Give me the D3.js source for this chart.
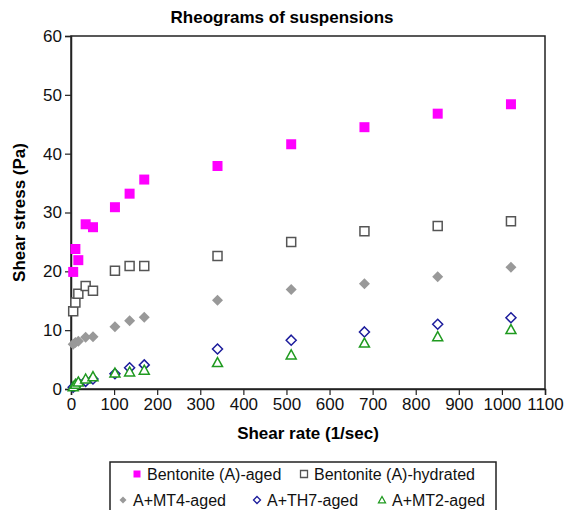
<!DOCTYPE html>
<html>
<head>
  <meta charset="UTF-8">
  <style>
    body { margin: 0; background: #fff; }
    text { font-family: "Liberation Sans", Arial, sans-serif; }
  </style>
</head>
<body>
<svg></svg>
<script src="https://d3js.org/d3.v7.min.js"></script>
<script>
// shear rates (1/sec)
const rate = [5.1, 10.2, 17, 34, 51, 102, 136, 170, 340, 511, 681, 851, 1021];

// shear stress (Pa) per suspension
const bentAged     = [19.9, 23.8, 21.9, 28.0, 27.5, 30.9, 33.2, 35.6, 37.9, 41.6, 44.5, 46.8, 48.4];
const bentHydrated = [13.2, 14.7, 16.2, 17.5, 16.7, 20.1, 20.9, 20.9, 22.6, 25.0, 26.8, 27.7, 28.5];
const mt4Aged      = [7.6, 7.9, 8.1, 8.8, 8.9, 10.6, 11.6, 12.2, 15.1, 16.9, 17.9, 19.1, 20.7];
const th7Aged      = [0.3, 0.6, 1.0, 1.3, 1.7, 2.6, 3.6, 4.1, 6.8, 8.3, 9.7, 11.0, 12.1];
const mt2Aged      = [0.4, 0.8, 1.2, 1.7, 2.1, 2.7, 2.9, 3.2, 4.5, 5.8, 7.8, 8.9, 10.1];

const xTicks = d3.range(0, 1101, 100);
const yTicks = d3.range(0, 61, 10);

const series = [
  {name: "Bentonite (A)-aged", values: bentAged, shape: "square", fill: "#ff00ff", stroke: "none", size: 10},
  {name: "Bentonite (A)-hydrated", values: bentHydrated, shape: "square", fill: "#fff", stroke: "#555", size: 9},
  {name: "A+MT4-aged", values: mt4Aged, shape: "diamond", fill: "#999", stroke: "none", size: 11},
  {name: "A+TH7-aged", values: th7Aged, shape: "diamond", fill: "#fff", stroke: "#1c1c9c", size: 10},
  {name: "A+MT2-aged", values: mt2Aged, shape: "triangle", fill: "#fff", stroke: "#1f9a1f", size: 10}
];

const width = 568, height = 510;
const margin = {left: 71, right: 23, top: 36, bottom: 121};

const svg = d3.select("svg").attr("width", width).attr("height", height);

const x = d3.scaleLinear().domain([0, 1100]).range([margin.left, width - margin.right]);
const y = d3.scaleLinear().domain([0, 60]).range([height - margin.bottom, margin.top]);

// marker path for a shape
function markerPath(shape, s) {
  const h = s / 2;
  if (shape === "square") return `M${-h},${-h}H${h}V${h}H${-h}Z`;
  if (shape === "diamond") return `M0,${-h}L${h},0L0,${h}L${-h},0Z`;
  return `M0,${-h}L${h},${h * 0.8}L${-h},${h * 0.8}Z`;
}

// plot frame (top/right)
svg.append("rect")
  .attr("x", x(0)).attr("y", y(60))
  .attr("width", x(1100) - x(0)).attr("height", y(0) - y(60))
  .attr("fill", "none").attr("stroke", "#222").attr("stroke-width", 1.5);

// axes
const xAxis = svg.append("g")
  .attr("transform", `translate(0,${y(0)})`)
  .call(d3.axisBottom(x).tickValues(xTicks).tickFormat(d3.format("d")).tickSize(6).tickPadding(3));
const yAxis = svg.append("g")
  .attr("transform", `translate(${x(0)},0)`)
  .call(d3.axisLeft(y).tickValues(yTicks).tickFormat(d3.format("d")).tickSize(6).tickPadding(3));

[xAxis, yAxis].forEach(g => {
  g.select(".domain").attr("stroke", "#222").attr("stroke-width", 1.5);
  g.selectAll(".tick line").attr("stroke", "#222").attr("stroke-width", 1.2);
  g.selectAll(".tick text").attr("font-size", 17).attr("fill", "#111")
    .style("font-family", "'Liberation Sans', Arial, sans-serif");
});

// points
series.forEach(s => {
  svg.append("g").selectAll("path")
    .data(s.values.map((v, i) => ({x: rate[i], y: v})))
    .enter().append("path")
    .attr("transform", d => `translate(${x(d.x)},${y(d.y)})`)
    .attr("d", markerPath(s.shape, s.size))
    .attr("fill", s.fill)
    .attr("stroke", s.stroke)
    .attr("stroke-width", 1.5);
});

// titles
svg.append("text")
  .attr("x", 282).attr("y", 23)
  .attr("text-anchor", "middle").attr("font-size", 17).attr("font-weight", "bold")
  .text("Rheograms of suspensions");

svg.append("text")
  .attr("x", (x(0) + x(1100)) / 2).attr("y", 439)
  .attr("text-anchor", "middle").attr("font-size", 17).attr("font-weight", "bold")
  .text("Shear rate (1/sec)");

svg.append("text")
  .attr("transform", `translate(25,${(y(0) + y(60)) / 2}) rotate(-90)`)
  .attr("text-anchor", "middle").attr("font-size", 17).attr("font-weight", "bold")
  .text("Shear stress (Pa)");

// legend
const legend = svg.append("g");
legend.append("rect")
  .attr("x", 110).attr("y", 462).attr("width", 386).attr("height", 60)
  .attr("fill", "#fff").attr("stroke", "#222").attr("stroke-width", 1.5);

const legendPos = [
  {x: 137, y: 474}, {x: 304, y: 474},
  {x: 123, y: 500}, {x: 257, y: 500}, {x: 382, y: 500}
];

series.forEach((s, i) => {
  const p = legendPos[i];
  legend.append("path")
    .attr("transform", `translate(${p.x},${p.y})`)
    .attr("d", markerPath(s.shape, 7))
    .attr("fill", s.fill)
    .attr("stroke", s.stroke)
    .attr("stroke-width", 1.3);
  legend.append("text")
    .attr("x", p.x + 10).attr("y", p.y + 5.5)
    .attr("font-size", 16).attr("fill", "#111")
    .text(s.name);
});
</script>
</body>
</html>
